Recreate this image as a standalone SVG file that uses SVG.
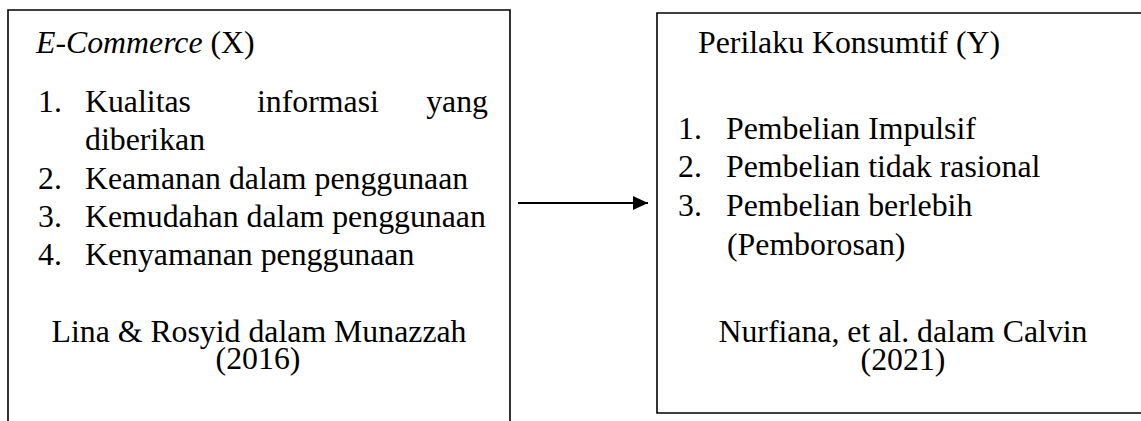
<svg xmlns="http://www.w3.org/2000/svg" width="1141" height="421" viewBox="0 0 1141 421">
<defs>
<style>
.box{fill:none;stroke:#000;stroke-width:1.6}
.t{font-family:"Liberation Serif","Times New Roman",serif;font-size:31.8px;fill:#000}
.i{font-style:italic}
.c{text-anchor:middle}
.e{text-anchor:end}
.conn{stroke:#000;stroke-width:2;fill:none}
</style>
<marker id="ah" markerWidth="16" markerHeight="16" refX="15" refY="7" orient="auto" markerUnits="userSpaceOnUse" viewBox="0 0 16 14">
<path d="M0,0 L15,7 L0,14 Z" fill="#000"/>
</marker>
</defs>
<rect width="1141" height="421" fill="#fff"/>
<g id="node-ecommerce">
<path class="box" d="M8,430 V10 H510 V430"/>
<text class="t" x="36" y="53"><tspan class="i">E-Commerce</tspan> (X)</text>
<text class="t" x="38" y="112">1.</text>
<text class="t" x="85" y="112">Kualitas</text>
<text class="t" x="257" y="112">informasi</text>
<text class="t e" x="488" y="112">yang</text>
<text class="t" x="85" y="150">diberikan</text>
<text class="t" x="38" y="189">2.</text>
<text class="t" x="85" y="189">Keamanan dalam penggunaan</text>
<text class="t" x="38" y="227">3.</text>
<text class="t" x="85" y="227">Kemudahan dalam penggunaan</text>
<text class="t" x="38" y="265">4.</text>
<text class="t" x="85" y="265">Kenyamanan penggunaan</text>
<text class="t c" x="259" y="342">Lina &amp; Rosyid dalam Munazzah<tspan x="258" dy="27">(2016)</tspan></text>
</g>
<g id="node-perilaku">
<path class="box" d="M1150,13 H657 V413 H1150"/>
<text class="t" x="698" y="53">Perilaku Konsumtif (Y)</text>
<text class="t" x="678" y="139">1.</text>
<text class="t" x="726" y="139">Pembelian Impulsif</text>
<text class="t" x="678" y="177">2.</text>
<text class="t" x="726" y="177">Pembelian tidak rasional</text>
<text class="t" x="678" y="216">3.</text>
<text class="t" x="726" y="216">Pembelian berlebih</text>
<text class="t" x="727" y="255">(Pemborosan)</text>
<text class="t c" x="903" y="342">Nurfiana, et al. dalam Calvin<tspan x="903" dy="28">(2021)</tspan></text>
</g>
<g id="connectors">
<line class="conn" x1="518" y1="203" x2="648" y2="203" marker-end="url(#ah)"/>
</g>
</svg>
